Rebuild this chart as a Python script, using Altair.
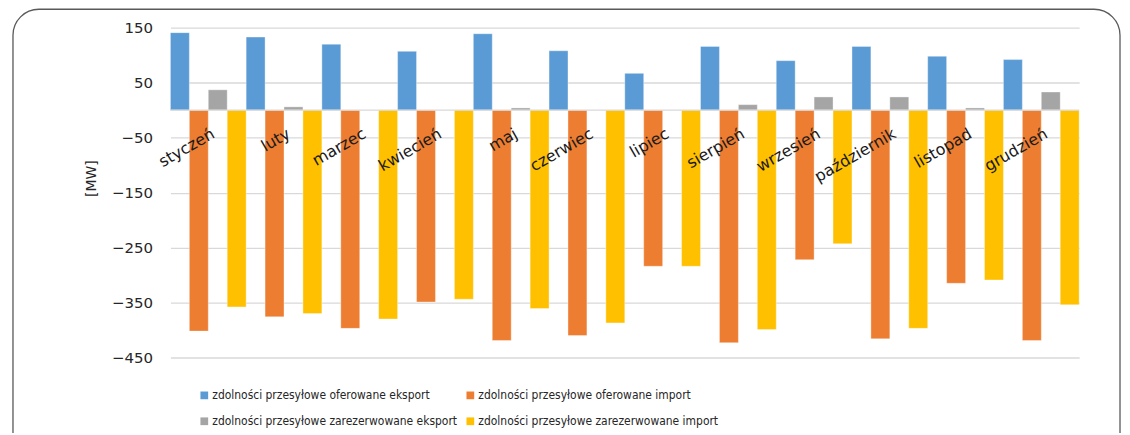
import altair as alt
import pandas as pd

months = ["styczeń", "luty", "marzec", "kwiecień", "maj", "czerwiec", "lipiec",
          "sierpień", "wrzesień", "październik", "listopad", "grudzień"]
series = ["zdolności przesyłowe oferowane eksport",
          "zdolności przesyłowe oferowane import",
          "zdolności przesyłowe zarezerwowane eksport",
          "zdolności przesyłowe zarezerwowane import"]
colors = ["#5b9bd5", "#ed7d31", "#a5a5a5", "#ffc000"]

export_offered = [141, 133, 120, 107, 139, 108, 67, 116, 90, 116, 98, 92]
import_offered = [-402, -376, -397, -349, -419, -410, -284, -423, -272, -416, -315, -419]
export_reserved = [37, 6, 0, 0, 4, 0, 0, 10, 24, 24, 4, 33]
import_reserved = [-358, -370, -380, -344, -361, -387, -284, -399, -243, -397, -309, -354]
y_ticks = [150, 50, -50, -150, -250, -350, -450]

rows = []
for vals, s in zip([export_offered, import_offered, export_reserved, import_reserved], series):
    for m, v in zip(months, vals):
        rows.append({"miesiac": m, "seria": s, "wartosc": v})
df = pd.DataFrame(rows)
mdf = pd.DataFrame({"miesiac": months})

# legend is filled column by column, so order the colour domain accordingly
legend_order = [series[0], series[2], series[1], series[3]]
legend_colors = [colors[0], colors[2], colors[1], colors[3]]

FONT = "DejaVu Sans"
LEG_FONT = "DejaVu Sans Condensed"

x_enc = alt.X("miesiac:N", sort=months, axis=None,
              scale=alt.Scale(paddingInner=0, paddingOuter=0))
y_scale = alt.Scale(domain=[-450, 150], nice=False, zero=False)

frame = alt.Chart(pd.DataFrame({"a": [0]})).mark_rect(
    filled=False, stroke="#595959", strokeWidth=1.3, cornerRadius=26
).encode(x=alt.value(-158), x2=alt.value(953), y=alt.value(-18.5), y2=alt.value(480))

bars = alt.Chart(df).mark_bar(stroke="white", strokeWidth=0.6, strokeOpacity=0.6).encode(
    x=x_enc,
    xOffset=alt.XOffset("seria:N", sort=series, scale=alt.Scale(paddingInner=0, paddingOuter=0)),
    y=alt.Y("wartosc:Q", scale=y_scale,
            axis=alt.Axis(values=y_ticks, grid=True, gridColor="#d9d9d9", gridWidth=1.3,
                          domain=False, ticks=False, labelPadding=18, labelFontSize=15,
                          labelFont=FONT, labelColor="#262626",
                          title="[MW]", titleFont=FONT, titleFontSize=14, titleFontWeight="normal",
                          titleColor="#262626", titlePadding=13, titleY=151)),
    color=alt.Color("seria:N", sort=legend_order,
                    scale=alt.Scale(domain=legend_order, range=legend_colors),
                    legend=alt.Legend(orient="none", legendX=28, legendY=363, columns=2,
                                      title=None, symbolType="square", symbolSize=60,
                                      symbolStrokeWidth=0, labelFont=LEG_FONT, labelFontSize=12,
                                      labelColor="#262626", columnPadding=6, rowPadding=14,
                                      labelOffset=2, labelLimit=400))
)

zero = alt.Chart(pd.DataFrame({"a": [0]})).mark_rule(color="#d9d9d9", strokeWidth=1.3).encode(
    y=alt.datum(0, scale=y_scale)
)

labels = alt.Chart(mdf).mark_text(
    angle=330, align="right", baseline="top", dx=-7, dy=14,
    font=FONT, fontSize=16, color="#1a1a1a"
).encode(x=x_enc, y=alt.datum(0), text="miesiac:N")

chart = alt.layer(frame, bars, zero, labels).properties(
    width=912, height=331, autosize="none",
    padding={"left": 163, "top": 19, "right": 43, "bottom": 75}
).configure_view(stroke=None)

chart.save("out.html", embed_options={"renderer": "svg", "actions": False})
